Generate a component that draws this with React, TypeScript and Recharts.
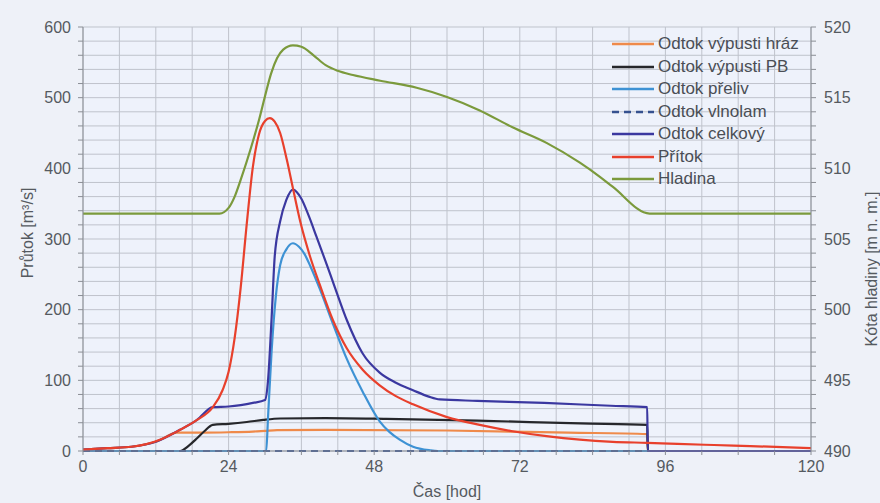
import { CartesianGrid, Line, LineChart, XAxis, YAxis } from "recharts";

document.body.style.margin = "0";

const FONT = "'Liberation Sans', Arial, sans-serif";
const INK = "#555a60";

// ticks (grid follows them: every 6 h, every 20 m3/s, every 1 m)
const timeTicks = [0, 6, 12, 18, 24, 30, 36, 42, 48, 54, 60, 66, 72, 78, 84, 90, 96, 102, 108, 114, 120];
const flowTicks = [0, 20, 40, 60, 80, 100, 120, 140, 160, 180, 200, 220, 240, 260, 280, 300, 320, 340, 360, 380, 400, 420, 440, 460, 480, 500, 520, 540, 560, 580, 600];
const levelTicks = [490, 491, 492, 493, 494, 495, 496, 497, 498, 499, 500, 501, 502, 503, 504, 505, 506, 507, 508, 509, 510, 511, 512, 513, 514, 515, 516, 517, 518, 519, 520];

// [čas h, hodnota]
const odtokHraz: [number, number][] = [
  [0, 2], [4, 4], [8, 6], [12, 13], [15.5, 26], [20, 26], [24, 26.5], [28, 27.5], [30, 28.5],
  [32, 29.5], [40, 30], [60, 29], [80, 26], [93, 24], [93.1, 0], [120, 0],
];
const odtokPB: [number, number][] = [
  [0, 0], [16, 0], [17.5, 8], [18.8, 18], [20, 28], [21.4, 37], [24, 38.5], [27, 41], [29.7, 44],
  [32.5, 46], [40, 46.5], [50, 45.5], [65, 43], [82, 39], [93, 37], [93.1, 0], [120, 0],
];
const odtokPreliv: [number, number][] = [
  [0, 0], [30.2, 0], [30.5, 48], [31.1, 143], [31.8, 220], [32.5, 263], [33.5, 285], [34.6, 294],
  [35.6, 289], [36.5, 279], [37.5, 261], [39, 230], [41.2, 180], [43.5, 130], [46.1, 84], [48.9, 42],
  [50.5, 27], [52.2, 16], [54.4, 6], [57.2, 1], [58.5, 0], [120, 0],
];
const odtokVlnolam: [number, number][] = [
  [0, 0], [120, 0],
];
const odtokCelkovy: [number, number][] = [
  [0, 2], [4, 4], [8, 6], [12, 13], [16, 30], [18.8, 44], [21.4, 62], [24, 63], [26, 65], [28, 68],
  [30, 72], [30.5, 100], [31.1, 190], [31.6, 275], [32.5, 325], [33.5, 355], [34.6, 370], [36, 357],
  [37.2, 333], [38.5, 303], [40, 268], [41.5, 232], [43.5, 185], [46.1, 138], [48.9, 111], [51.5, 97],
  [54.4, 86], [57, 77], [58.8, 73], [65, 71], [76, 68], [87, 64], [93, 62], [93.1, 0], [120, 0],
];
const pritok: [number, number][] = [
  [0, 2], [4, 4], [8, 6], [13, 17], [16, 30], [18.8, 44], [21.4, 62], [23, 86], [24, 112], [25, 160],
  [26, 232], [27, 322], [28, 402], [29, 448], [30, 467], [30.8, 471], [31.6, 466], [32.5, 450],
  [33.6, 412], [34.6, 372], [35.8, 325], [37.4, 276], [39, 236], [41.2, 185], [43.5, 145], [46.1, 115],
  [48.9, 93], [51.5, 78], [54.4, 66], [60, 48], [65.4, 37], [70.8, 28], [76.4, 21], [81.9, 16],
  [87.3, 13], [93, 11.5], [98, 10], [104, 8.5], [110, 7], [120, 4],
];
const hladina: [number, number][] = [
  [0, 506.8], [22.5, 506.8], [24, 507.2], [25, 508.0], [26, 509.2], [27, 510.5], [28, 511.9],
  [29, 513.4], [30, 515.1], [31, 516.7], [32, 517.8], [33, 518.4], [34.6, 518.7], [36, 518.6],
  [38, 518.0], [40, 517.3], [42, 516.9], [44.5, 516.6], [49, 516.2], [55, 515.7], [60, 515.05],
  [65.4, 514.1], [70.8, 512.9], [76.4, 511.8], [81.9, 510.4], [85.2, 509.4], [87.3, 508.7],
  [93.4, 506.8], [120, 506.8],
];

const series = [
  { name: "Odtok výpusti hráz", data: odtokHraz, color: "#ef8a4a", dash: undefined, axis: "left" },
  { name: "Odtok výpusti PB", data: odtokPB, color: "#26272b", dash: undefined, axis: "left" },
  { name: "Odtok přeliv", data: odtokPreliv, color: "#3e92d4", dash: undefined, axis: "left" },
  { name: "Odtok vlnolam", data: odtokVlnolam, color: "#35518f", dash: "7 5", axis: "left" },
  { name: "Odtok celkový", data: odtokCelkovy, color: "#3b38a0", dash: undefined, axis: "left" },
  { name: "Přítok", data: pritok, color: "#e8402c", dash: undefined, axis: "left" },
  { name: "Hladina", data: hladina, color: "#7b9a3c", dash: undefined, axis: "right" },
];

const toRows = (pts: [number, number][]) => pts.map(([t, v]) => ({ t, v }));

const tickStyle = { fontSize: 16, fill: INK, fontFamily: FONT };

function LegendBox() {
  return (
    <div
      style={{
        position: "absolute",
        top: 33,
        left: 610,
        fontFamily: FONT,
        fontSize: 17,
        color: "#4a4e55",
        lineHeight: "22.5px",
      }}
    >
      {series.map((s) => (
        <div key={s.name} style={{ display: "flex", alignItems: "center" }}>
          <svg width={46} height={10} style={{ marginRight: 2 }}>
            <line
              x1={2}
              x2={44}
              y1={5}
              y2={5}
              stroke={s.color}
              strokeWidth={2.5}
              strokeDasharray={s.dash}
            />
          </svg>
          <span style={{ whiteSpace: "nowrap" }}>{s.name}</span>
        </div>
      ))}
    </div>
  );
}

export default function App() {
  return (
    <div style={{ position: "relative", width: 880, height: 503, background: "#eef1f8" }}>
      <LineChart width={880} height={503} margin={{ top: 27, right: 0, bottom: 0, left: 0 }}>
        <CartesianGrid yAxisId="left" stroke="#bfc3cc" fill="#eef2fb" />
        <XAxis
          dataKey="t"
          type="number"
          domain={[0, 120]}
          ticks={timeTicks}
          interval={0}
          height={52}
          stroke="#8a8e95"
          tickSize={4}
          tick={tickStyle}
          tickMargin={6}
          tickFormatter={(v: number) => (v % 24 === 0 ? `${v}` : "")}
          allowDataOverflow
          label={{
            content: () => (
              <text x={447} y={497} textAnchor="middle" fontSize={16} fill={INK} fontFamily={FONT}>
                Čas [hod]
              </text>
            ),
          }}
        />
        <YAxis
          yAxisId="left"
          domain={[0, 600]}
          ticks={flowTicks}
          interval={0}
          width={83}
          stroke="#8a8e95"
          tickSize={5}
          tickMargin={7}
          tick={tickStyle}
          tickFormatter={(v: number) => (v % 100 === 0 ? `${v}` : "")}
          label={{
            content: () => (
              <text
                x={27}
                y={233}
                transform="rotate(-90 27 233)"
                textAnchor="middle"
                dominantBaseline="central"
                fontSize={16}
                fill={INK}
                fontFamily={FONT}
              >
                Průtok [m³/s]
              </text>
            ),
          }}
        />
        <YAxis
          yAxisId="right"
          orientation="right"
          domain={[490, 520]}
          ticks={levelTicks}
          interval={0}
          width={69}
          stroke="#8a8e95"
          tickSize={5}
          tickMargin={8}
          tick={tickStyle}
          tickFormatter={(v: number) => (v % 5 === 0 ? `${v}` : "")}
          label={{
            content: () => (
              <text
                x={871}
                y={269}
                transform="rotate(-90 871 269)"
                textAnchor="middle"
                dominantBaseline="central"
                fontSize={16}
                fill={INK}
                fontFamily={FONT}
              >
                Kóta hladiny [m n. m.]
              </text>
            ),
          }}
        />
        {series.map((s) => (
          <Line
            key={s.name}
            name={s.name}
            data={toRows(s.data)}
            dataKey="v"
            yAxisId={s.axis}
            type="monotone"
            stroke={s.color}
            strokeWidth={2.2}
            strokeDasharray={s.dash}
            dot={false}
            activeDot={false}
            isAnimationActive={false}
          />
        ))}
      </LineChart>
      <LegendBox />
    </div>
  );
}
